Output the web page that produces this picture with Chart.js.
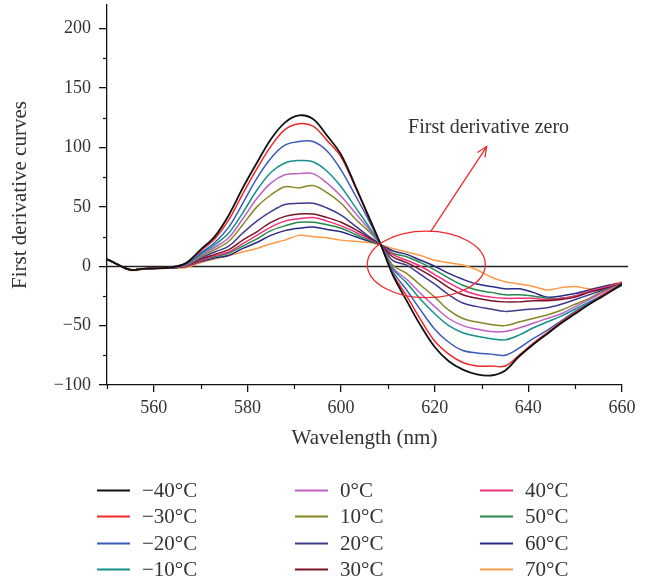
<!DOCTYPE html>
<html>
<head>
<meta charset="utf-8">
<script src="https://cdn.jsdelivr.net/npm/chart.js@4/dist/chart.umd.min.js"></script>
<style>
  html, body { margin: 0; padding: 0; background: #fff; }
  #wrap { width: 649px; height: 581px; position: relative; }
</style>
</head>
<body>
<div id="wrap"><canvas id="c" width="649" height="581"></canvas></div>
<script>
// ---- data ----
const wavelengths = [550, 552, 555, 558, 562, 565, 567, 570, 573, 576, 579, 582, 585, 588, 591, 594, 597, 600, 603, 606, 608.5, 611, 614, 617, 620, 623, 626, 629, 632, 635, 638, 641, 644, 647, 650, 653, 656, 660];
const seriesLabels = ["\u221240\u00b0C", "\u221230\u00b0C", "\u221220\u00b0C", "\u221210\u00b0C", "0\u00b0C", "10\u00b0C", "20\u00b0C", "30\u00b0C", "40\u00b0C", "50\u00b0C", "60\u00b0C", "70\u00b0C"];
const tMinus40 = [6, 2, -3, -2, -1.5, 0, 3, 14, 25, 43, 66, 87, 107, 121, 127, 124, 110, 94, 68, 41, 18, -7, -29, -50, -68, -80, -87, -91, -92, -88, -76, -66, -57, -48, -40, -32, -25, -15];
const tMinus30 = [6, 2, -3, -2, -1.5, 0, 3, 13, 23, 39, 61, 82, 101, 115, 120, 118, 106, 92, 67, 40, 18, -6, -25, -45, -63, -74, -81, -84, -84, -84, -75, -65, -56, -47, -39, -32, -24, -15];
const tMinus20 = [6, 2, -3, -2, -1.5, 0, 2, 11, 20, 33, 53, 74, 91, 102, 105, 105, 97, 81, 60, 38, 18, -4, -20, -37, -53, -64, -71, -73, -74, -75, -69, -61, -54, -46, -38, -31, -24, -16];
const tMinus10 = [6, 2, -3, -2, -1.5, 0, 2, 10, 18, 28, 45, 64, 79, 87, 89, 88, 80, 67, 50, 33, 18, -2, -14, -28, -40, -50, -56, -59, -61, -62, -58, -52, -47, -42, -36, -30, -24, -16];
const t0 = [6, 2, -3, -2, -1.5, -0.5, 1.5, 9, 16, 24, 40, 57, 70, 77, 78, 78, 70, 59, 45, 31, 18, -1, -11, -23, -34, -44, -50, -53, -55, -55, -52, -48, -44, -40, -34, -28, -22, -15];
const t10 = [6, 2, -3, -2, -1.5, -0.5, 1, 8, 14, 21, 35, 50, 60, 67, 66, 68, 62, 53, 40, 29, 18, 1, -6, -16, -26, -37, -44, -47, -49, -50, -47, -44, -41, -37, -32, -27, -21, -15];
const t20 = [6, 2, -3, -2, -1.5, -1, 1, 7, 12, 17, 28, 38, 46, 52, 53, 53, 49, 43, 34, 25, 18, 5, 1, -7, -15, -24, -31, -34, -36, -38, -37, -36, -35, -32, -28, -24, -20, -15];
const t30 = [6, 2, -3, -2, -1.5, -1, 0.5, 6, 10, 14, 22, 29, 37, 42, 44, 44, 41, 37, 31, 24, 18, 8, 3, -3, -10, -18, -24, -27, -29, -30, -30, -29, -29, -28, -26, -22, -19, -15];
const t40 = [6, 2, -3, -2, -1.5, -1, 0, 5, 9, 12, 19, 26, 33, 38, 40, 41, 38, 34, 29, 23, 18, 10, 5, 0, -7, -14, -20, -24, -26, -27, -27, -27, -28, -27, -25, -21, -18, -14];
const t50 = [6, 2, -3, -2, -1.5, -1, 0, 5, 8, 11, 17, 23, 30, 34, 37, 37, 35, 32, 27, 22, 18, 11, 8, 3, -3, -10, -16, -20, -22, -24, -24, -25, -27, -27, -25, -21, -18, -14];
const t60 = [6, 2, -3, -2, -1.5, -1, 0, 4, 7, 9, 15, 20, 26, 30, 32, 33, 31, 29, 25, 21, 18, 13, 10, 5, 0, -6, -11, -15, -17, -19, -19, -22, -26, -25, -23, -20, -17, -14];
const t70 = [6, 2, -3.5, -2.5, -2, -1.5, -1, 3, 6, 9, 12, 15, 19, 22, 26, 25, 24, 22, 21, 20, 18, 15, 12, 9, 5, 3, 1, -3, -9, -13, -15, -17, -20, -18, -17, -19, -17, -13];
const allSeries = [tMinus40, tMinus30, tMinus20, tMinus10, t0, t10, t20, t30, t40, t50, t60, t70];
const xTickValues = [560, 580, 600, 620, 640, 660];
const yTickValues = [-100, -50, 0, 50, 100, 150, 200];
const xMinorTicks = [550, 570, 590, 610, 630, 650];
const yMinorTicks = [-75, -25, 25, 75, 125, 175];
const annotationText = "First derivative zero";

// ---- styles ----
const colors = ["#111111", "#f02828", "#3a5cb8", "#14908c", "#c060c0", "#868628", "#3c3c8c", "#7a1424", "#f0307c", "#258a4a", "#2a2a88", "#ff9a48"];
const SERIF = "'Liberation Serif', 'Times New Roman', serif";
const TEXT = "#333333";

const datasets = allSeries.map((s, i) => ({
  label: seriesLabels[i],
  data: wavelengths.map((w, j) => ({ x: w, y: s[j] })),
  borderColor: colors[i],
  backgroundColor: colors[i],
  borderWidth: i === 0 ? 1.8 : 1.5,
  pointRadius: 0,
  tension: 0.35,
  fill: false
}));

const extrasPlugin = {
  id: 'extras',
  beforeDatasetsDraw(chart) {
    const { ctx, chartArea, scales: { x, y } } = chart;
    ctx.save();
    ctx.strokeStyle = '#222';
    ctx.lineWidth = 1.4;
    const y0 = Math.round(y.getPixelForValue(0)) + 0.5;
    ctx.beginPath();
    ctx.moveTo(chartArea.left, y0);
    ctx.lineTo(chartArea.right + 6, y0);
    ctx.stroke();
    ctx.restore();
  },
  afterDraw(chart) {
    const { ctx, chartArea, scales: { x, y } } = chart;
    ctx.save();
    // minor ticks
    ctx.strokeStyle = '#111';
    ctx.lineWidth = 1.2;
    xMinorTicks.forEach(v => {
      const px = Math.round(x.getPixelForValue(v)) + 0.5;
      ctx.beginPath();
      ctx.moveTo(px, chartArea.bottom);
      ctx.lineTo(px, chartArea.bottom + 4);
      ctx.stroke();
    });
    yMinorTicks.forEach(v => {
      const py = Math.round(y.getPixelForValue(v)) + 0.5;
      ctx.beginPath();
      ctx.moveTo(chartArea.left, py);
      ctx.lineTo(chartArea.left - 4, py);
      ctx.stroke();
    });
    // annotation: ellipse
    const cx = x.getPixelForValue(618.2), cy = y.getPixelForValue(1.5);
    const rx = x.getPixelForValue(618.2 + 12.6) - cx;
    const ry = cy - y.getPixelForValue(1.5 + 28);
    ctx.strokeStyle = '#ee2a2a';
    ctx.lineWidth = 1.3;
    ctx.beginPath();
    ctx.ellipse(cx, cy, rx, ry, 0, 0, Math.PI * 2);
    ctx.stroke();
    // arrow
    const ax0 = x.getPixelForValue(619.1), ay0 = y.getPixelForValue(29);
    const ax1 = x.getPixelForValue(631.1), ay1 = y.getPixelForValue(100.8);
    ctx.beginPath();
    ctx.moveTo(ax0, ay0);
    ctx.lineTo(ax1, ay1);
    ctx.stroke();
    const ang = Math.atan2(ay1 - ay0, ax1 - ax0);
    const hl = 11, ha = 0.42;
    ctx.beginPath();
    ctx.moveTo(ax1 - hl * Math.cos(ang - ha), ay1 - hl * Math.sin(ang - ha));
    ctx.lineTo(ax1, ay1);
    ctx.lineTo(ax1 - hl * Math.cos(ang + ha), ay1 - hl * Math.sin(ang + ha));
    ctx.stroke();
    // annotation text
    ctx.fillStyle = TEXT;
    ctx.font = "20px " + SERIF;
    ctx.textAlign = 'center';
    ctx.textBaseline = 'middle';
    ctx.fillText(annotationText, x.getPixelForValue(631.5), y.getPixelForValue(116.5));
    // legend (3 columns, 4 rows, column-major)
    const colX = [97, 295, 480];
    const rowY = [490, 516, 543, 569];
    ctx.font = "21px " + SERIF;
    ctx.textAlign = 'left';
    ctx.textBaseline = 'middle';
    chart.data.datasets.forEach((ds, i) => {
      const c = Math.floor(i / 4), r = i % 4;
      const lx = colX[c], ly = rowY[r];
      ctx.strokeStyle = ds.borderColor;
      ctx.lineWidth = 1.8;
      ctx.beginPath();
      ctx.moveTo(lx, ly + 0.5);
      ctx.lineTo(lx + 33, ly + 0.5);
      ctx.stroke();
      ctx.fillStyle = TEXT;
      ctx.fillText(ds.label, lx + 45, ly + 1);
    });
    ctx.restore();
  }
};

new Chart(document.getElementById('c'), {
  type: 'line',
  data: { datasets },
  plugins: [extrasPlugin],
  options: {
    responsive: false,
    animation: false,
    devicePixelRatio: 1,
    layout: { padding: { left: 0, top: 5, right: 27, bottom: 130 } },
    plugins: { legend: { display: false }, tooltip: { enabled: false } },
    scales: {
      x: {
        type: 'linear',
        min: 550, max: 660,
        afterBuildTicks: s => { s.ticks = xTickValues.map(v => ({ value: v })); },
        afterFit: s => { s.height = 66; },
        border: { display: true, color: '#111', width: 1.3 },
        grid: { drawOnChartArea: false, drawTicks: true, tickLength: 7, color: '#111', lineWidth: 1.3 },
        ticks: { color: TEXT, font: { family: SERIF, size: 18 }, padding: 5, maxRotation: 0 },
        title: { display: true, text: 'Wavelength (nm)', color: TEXT, font: { family: SERIF, size: 21 }, padding: { top: 0, bottom: 0 } }
      },
      y: {
        type: 'linear',
        min: -100, max: 220,
        afterBuildTicks: s => { s.ticks = yTickValues.map(v => ({ value: v })); },
        afterFit: s => { s.width = 107; s.paddingTop = 0; s.paddingBottom = 0; },
        border: { display: true, color: '#111', width: 1.3 },
        grid: { drawOnChartArea: false, drawTicks: true, tickLength: 8, color: '#111', lineWidth: 1.3 },
        ticks: { color: TEXT, font: { family: SERIF, size: 18 }, padding: 8,
                 callback: v => (v < 0 ? '\u2212' + Math.abs(v) : String(v)) },
        title: { display: true, text: 'First derivative curves', color: TEXT, font: { family: SERIF, size: 21 }, padding: { top: 8, bottom: 0 } }
      }
    }
  }
});
</script>
</body>
</html>
